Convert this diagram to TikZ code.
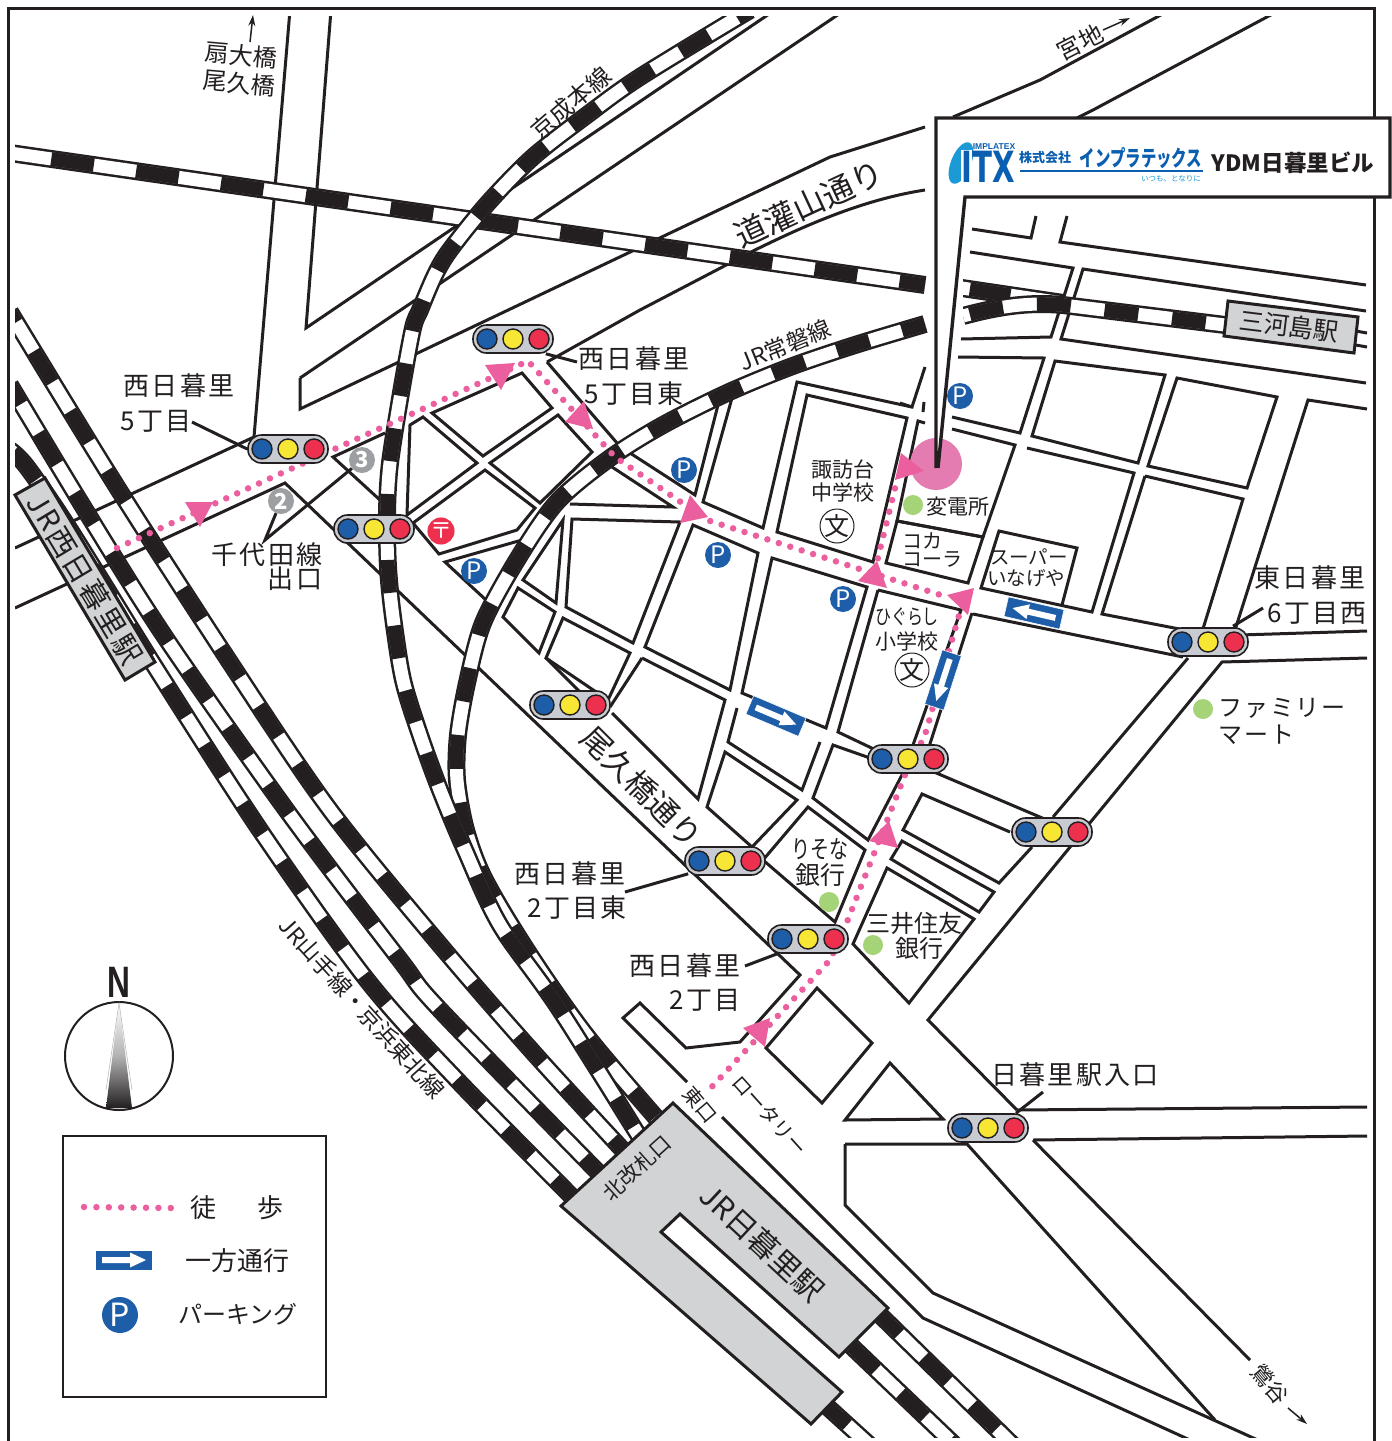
\documentclass[tikz,border=0pt]{standalone}
\usepackage{fontspec}
\usepackage{graphicx}
\usetikzlibrary{arrows.meta,calc}
\setmainfont{Liberation Sans}
\newfontfamily\jp{Noto Sans CJK JP}
\newfontfamily\jpw[LetterSpace=8]{Noto Sans CJK JP}
\newfontfamily\djv{DejaVu Sans}
\definecolor{ink}{HTML}{231F20}
\definecolor{pinkr}{HTML}{EC5F9E}
\definecolor{pinkc}{HTML}{E47CB2}
\definecolor{sblue}{HTML}{1E5EA8}
\definecolor{lblue}{HTML}{1B9AD6}
\definecolor{dblue}{HTML}{0B5FB0}
\definecolor{sgray}{HTML}{D1D3D4}
\definecolor{tgray}{HTML}{C8CBD1}
\definecolor{tyel}{HTML}{F8E634}
\definecolor{tred}{HTML}{EC304E}
\definecolor{gdot}{HTML}{A5D478}
\definecolor{ngray}{HTML}{9D9FA2}
\tikzset{
  road/.style={draw=ink,line width=3pt,line join=miter,line cap=butt},
  leader/.style={draw=ink,line width=3pt},
  raile/.style={draw=ink,line width=18pt,line cap=butt},
  raili/.style={draw=white,line width=13pt,line cap=butt},
  railb/.style={draw=ink,line width=13.6pt,line cap=butt},
  route/.style={draw=pinkr,line width=6.5pt,line cap=round,dash pattern=on 0pt off 12pt},
  tri/.style={fill=pinkr},
  fs/.style={font=\jp\fontsize{#1}{#1}\selectfont,text=ink,inner sep=0pt},
  fw/.style={font=\jpw\fontsize{#1}{#1}\selectfont,text=ink,inner sep=0pt},
  pill/.style={draw=ink,fill=tgray,line width=1.6pt,rounded corners=13.5pt,minimum width=80pt,minimum height=28pt,inner sep=0pt},
  lamp/.style={circle,draw=ink,line width=1.4pt,minimum size=20pt,inner sep=0pt},
  psign/.style={circle,fill=sblue,text=white,minimum size=26pt,inner sep=0pt,font=\jp\fontsize{24}{24}\selectfont},
  gdotn/.style={circle,fill=gdot,minimum size=20pt,inner sep=0pt},
  numn/.style={circle,fill=ngray,text=white,minimum size=26pt,inner sep=0pt,font=\jp\bfseries\fontsize{22}{22}\selectfont},
  schooln/.style={circle,draw=ink,line width=1pt,minimum size=34pt,inner sep=0pt,font=\jp\fontsize{25}{25}\selectfont,text=ink},
  thin arrow/.style={draw=ink,line width=1.5pt,-{Stealth[length=11pt,width=7pt]}},
}
\newcommand\railx[2]{\draw[raile] #2; \draw[raili] #2; \draw[railb,#1] #2;}
\newcommand\tlight[3]{%
  \node[pill] (#1) at (#2,#3) {};
  \path (#2,#3) ++(-26,0) node[lamp,fill=sblue] (#1b) {};
  \path (#2,#3) node[lamp,fill=tyel] (#1y) {};
  \path (#2,#3) ++(26,0) node[lamp,fill=tred] (#1r) {};
}
\newcommand\onew[3]{%
  \begin{scope}[shift={(#1,#2)},rotate=#3]
    \fill[sblue,draw=white,line width=.6pt] (-28.5,-10) rectangle (28.5,10);
    \fill[white] (-22,-3) -- (6,-3) -- (6,-7.5) -- (22,0) -- (6,7.5) -- (6,3) -- (-22,3) -- cycle;
  \end{scope}
}
\begin{document}
\begin{tikzpicture}[x=1pt,y=-1pt]
\useasboundingbox (0,0) rectangle (1392,1441);
\fill[white] (0,0) rectangle (1392,1441);
\begin{scope}
\clip (15,16) rectangle (1367,1437);
% ---------- roads
\draw[road] (290,10) -- (254,437);
\draw[road] (331,10) -- (306,328) -- (775,10);
\draw[road] (300,378) -- (845,10);
\draw[road] (300,378) -- (300,409) -- (830,157) -- (925,127);
\draw[road] (547,362) -- (640,310) -- (755,250) .. controls (800,228) and (860,200) .. (925,190);
\draw[road] (15,548) -- (254,437);
\draw[road] (15,608) -- (285,483) -- (800,975) -- (740,1042) -- (686,1048) -- (640,1003) -- (623,1018) -- (687,1082);
\draw[road] (722,1117) -- (923,1318) -- (1190,1440);
\draw[road] (385,433) -- (333,457) -- (380,500);
\draw[road] (407,515) -- (410,425) -- (423,417) -- (477,463) -- cycle;
\draw[road] (432,413) -- (522,373) -- (552,408) -- (483,456) -- cycle;
\draw[road] (490,463) -- (558,415) -- (592,452) -- (540,503) -- cycle;
\draw[road] (485,470) -- (535,508) -- (517,530) -- (439,554) -- (413,523) -- cycle;
\draw[road] (522,540) -- (445,562) -- (486,600);
\draw[road] (547,362) -- (617,443);
\draw[road] (630,453) -- (695,495) -- (718,405);
\draw[road] (570,504) -- (673,507) -- (612,467);
\draw[road] (563,520) -- (523,580) -- (556,603) -- cycle;
\draw[road] (572,519) -- (680,522) -- (633,643) -- (566,607) -- cycle;
\draw[road] (693,525) -- (758,553) -- (730,690) -- (645,647) -- cycle;
\draw[road] (732,398) -- (703,502) -- (763,528) -- (797,382) -- (912,407) -- (925,367);
\draw[road] (900,403) -- (912,407);
\draw[road] (807,395) -- (907,418) -- (873,562) -- (777,532) -- cycle;
\draw[road] (772,558) -- (867,587) -- (826,728) -- (742,693) -- cycle;
\draw[road] (878,590) -- (961,610) -- (913,745);
\draw[road] (878,590) -- (838,732) -- (880,752);
\draw[road] (925,423) -- (918,421) -- (897,521) -- (983,537);
\draw[road] (924,402) -- (923,412);
\draw[road] (897,521) -- (983,537) -- (968,583) -- (886,563) -- cycle;
\draw[road] (952,429) -- (1015,445) -- (983,537);
\draw[road] (958,357) -- (1044,358) -- (1020,433) -- (952,417);
\draw[road] (1055,361) -- (1165,375) -- (1138,463) -- (1032,436) -- cycle;
\draw[road] (1177,378) -- (1277,397) -- (1247,488) -- (1148,466) -- cycle;
\draw[road] (1027,448) -- (1134,473) -- (1092,612) -- (981,588) -- (999,531) -- (1077,548) -- (1062,605);
\draw[road] (1145,476) -- (1243,499) -- (1202,632);
\draw[road] (1145,476) -- (1102,614) -- (1195,632);
\draw[road] (1367,409) -- (1308,400) -- (1235,630);
\draw[road] (973,614) -- (1183,657);
\draw[road] (1240,635) -- (1367,631);
\draw[road] (1367,658) -- (1222,662) -- (928,1020) -- (1017,1110);
\draw[road] (1188,658) -- (1053,817);
\draw[road] (1032,847) -- (999,883) -- (903,830) -- (922,794) -- (1010,832);
\draw[road] (972,613) -- (928,750);
\draw[road] (903,773) -- (868,840) -- (813,798) -- (833,745) -- (870,758);
\draw[road] (934,772) -- (1047,820);
\draw[road] (642,658) -- (725,700) -- (698,799) -- (612,713);
\draw[road] (642,658) -- (610,707);
\draw[road] (737,708) -- (728,742) -- (802,790) -- (820,742);
\draw[road] (563,618) -- (630,653) -- (608,700) -- (546,658) -- cycle;
\draw[road] (546,658) -- (580,692);
\draw[road] (518,588) -- (555,612) -- (539,653) -- (503,617) -- cycle;
\draw[road] (725,752) -- (797,800) -- (752,847) -- (707,807) -- cycle;
\draw[road] (808,807) -- (865,850) -- (835,922) -- (763,860) -- cycle;
\draw[road] (887,868) -- (974,919) -- (909,1003) -- (853,944) -- cycle;
\draw[road] (902,841) -- (994,892) -- (979,912) -- (891,859) -- cycle;
\draw[road] (817,988) -- (872,1043) -- (822,1103) -- (766,1048) -- cycle;
\draw[road] (890,1063) -- (943,1119) -- (845,1120) -- cycle;
\draw[road] (845,1144) -- (967,1144) -- (1215,1420);
\draw[road] (845,1144) -- (845,1205) -- (933,1293) -- (1260,1441);
\draw[road] (1033,1140) -- (1250,1360);
\draw[road] (1033,1140) -- (1367,1136);
\draw[road] (1017,1110) -- (1367,1107);
\draw[road] (953,117) -- (1040,80) -- (1170,10);
\draw[road] (1077,118) -- (1093,110) -- (1280,10);
\draw[road] (972,229) -- (1031,238) -- (1036,216);
\draw[road] (1067,216) -- (1060,242) -- (1366,285);
\draw[road] (970,252) -- (1073,268) -- (1051,337) -- (961,339);
\draw[road] (1366,311) -- (1083,269) -- (1061,339) -- (1366,383);
\draw[road] (1350,330) -- (1367,333);
\draw[road] (1350,344) -- (1367,347);
% ---------- rails
\railx{dash pattern=on 43pt off 42.7pt,dash phase=44pt}{(10,153) -- (925,285)}
\railx{dash pattern=on 36pt off 34pt,dash phase=66pt}{plot[smooth,tension=.5] coordinates {(10,450) (27,467) (70,530) (157,670) (260,830) (367,980) (460,1083) (620,1245)}}
\railx{dash pattern=on 36pt off 34pt,dash phase=14pt}{plot[smooth,tension=.5] coordinates {(10,385) (87,513) (167,640) (290,815) (400,960) (443,1013) (640,1215)}}
\railx{dash pattern=on 36pt off 34pt,dash phase=24pt}{plot[smooth,tension=.5] coordinates {(10,312) (117,487) (233,667) (330,810) (440,945) (540,1060) (660,1190)}}
\railx{dash pattern=on 34pt off 34pt,dash phase=10pt}{plot[smooth,tension=.5] coordinates {(925,324) (855,345) (790,367) (727,393) (663,425) (610,458) (557,502) (517,560) (483,623) (467,683) (458,735) (457,780) (466,830) (485,880) (530,955) (590,1040) (680,1145)}}
\railx{dash pattern=on 33pt off 33pt,dash phase=18pt}{plot[smooth,tension=.5] coordinates {(750,10) (640,77) (587,115) (533,157) (488,203) (450,250) (435,275) (420,310) (413,328) (402,387) (390,463) (387,513) (388,567) (393,617) (403,680) (420,735) (440,790) (465,850) (500,925) (560,1010) (660,1170)}}
% right of the pointer
\begin{scope}
\clip (963,200) rectangle (1367,360);
\railx{dash pattern=on 41pt off 100pt,dash phase=126pt}{(955,287) -- (1063,303)}
\railx{dash pattern=on 34pt off 34pt,dash phase=61pt}{(963,316) .. controls (1000,306) and (1030,302) .. (1063,305) -- (1225,325)}
\end{scope}
% stubs of rails below the station
\railx{dash pattern=on 34pt off 34pt}{(875,1310) -- (1020,1452)}
\railx{dash pattern=on 34pt off 34pt,dash phase=59pt}{(845,1340) -- (960,1450)}
\railx{dash pattern=on 34pt off 34pt,dash phase=65pt}{(820,1400) -- (875,1450)}
\end{scope}
% ---------- stations
\draw[fill=sgray,draw=ink,line width=3pt,line join=miter,even odd rule]
  (673,1103) -- (888,1308) -- (839,1357) -- (680,1214) -- (661,1232) -- (842,1392) -- (811,1424) -- (561,1206) -- cycle;
\draw[fill=sgray,draw=ink,line width=3pt] (15,495) -- (45,478) -- (155,662) -- (125,680) -- cycle;
\draw[fill=sgray,draw=ink,line width=3pt] (1228,301) -- (1358,317) -- (1354,353) -- (1224,336) -- cycle;
\node[fw=29,rotate=-59] (sw) at (85,579) {JR西日暮里駅};
\node[fs=25,rotate=-7] (sm) at (1289,326) {三河島駅};
\node[fs=30,rotate=-43] (sn) at (762,1243) {JR日暮里駅};
\node[fs=21,rotate=42] (sk) at (637,1168) {北改札口};
% ---------- route
\fill[pinkc] (936,464) circle (26);
\draw[route] (117,548) -- (528,361) -- (615,457) -- (707,520) -- (950,598);
\draw[route] (962,605) -- (925,735) -- (905,775) -- (845,927) -- (830,960) -- (707,1092);
\draw[route] (875,570) -- (897,480);
\fill[tri] (185,502) -- (213,502) -- (200,527) -- cycle;
\fill[tri] (485,365) -- (515,363) -- (501,390) -- cycle;
\fill[tri] (584,401) -- (593,429) -- (565,422) -- cycle;
\fill[tri] (690,495) -- (708,517) -- (680,523) -- cycle;
\fill[tri] (877,561) -- (887,588) -- (858,581) -- cycle;
\fill[tri] (974,588) -- (968,615) -- (947,595) -- cycle;
\fill[tri] (901,453) -- (924,471) -- (895,480) -- cycle;
\fill[tri] (889,821) -- (898,848) -- (869,841) -- cycle;
\fill[tri] (770,1018) -- (765,1047) -- (743,1028) -- cycle;
% ---------- one-way signs
\onew{776}{716}{-23}
\onew{1034}{613}{167}
\onew{943}{680}{-108}
% ---------- free ends of the leaders
\coordinate (apx) at (265,540);
\coordinate (lda) at (192,422);
\coordinate (ldb) at (577,362);
\coordinate (ldc) at (1263,608);
\coordinate (ldd) at (625,892);
\coordinate (lde) at (745,966);
\coordinate (ldf) at (1043,1092);
% ---------- traffic lights
\tlight{ta}{288}{449}
\tlight{tb}{513}{339}
\tlight{tc}{374}{529}
\tlight{td}{570}{705}
\tlight{te}{908}{759}
\tlight{tf}{1208}{642}
\tlight{tg}{1052}{832}
\tlight{th}{725}{861}
\tlight{ti}{808}{939}
\tlight{tj}{988}{1128}
% ---------- P, post, numbered exits, dots
\node[psign] (pa) at (960,396) {P};
\node[psign] (pb) at (684,470) {P};
\node[psign] (pc) at (718,555) {P};
\node[psign] (pd) at (843,599) {P};
\node[psign] (pe) at (474,571) {P};
\node[circle,fill=tred,text=white,minimum size=26pt,inner sep=0pt,font=\jp\fontsize{22}{22}\selectfont] (post) at (441,531) {〒};
\node[numn] (n2) at (281,501) {2};
\node[numn] (n3) at (362,460) {3};
\node[gdotn] (ga) at (913,505) {};
\node[gdotn] (gb) at (1203,709) {};
\node[gdotn] (gc) at (829,902) {};
\node[gdotn] (gd) at (873,945) {};
\node[schooln] (sa) at (837,526) {文};
\node[schooln] (sb) at (912,670) {文};
% ---------- labels
\node[fw=26] (la1) at (179,386) {西日暮里};
\node[fw=26] (la2) at (156,421) {5丁目};
\node[fw=26] (lb1) at (634,359) {西日暮里};
\node[fw=26] (lb2) at (634,394) {5丁目東};
\node[fw=26] (lc1) at (267,555) {千代田線};
\node[fw=26] (lc2) at (295,579) {出口};
\node[fw=26] (lf1) at (1310,578) {東日暮里};
\node[fw=26] (lf2) at (1317,613) {6丁目西};
\node[fw=26] (lh1) at (570,874) {西日暮里};
\node[fw=26] (lh2) at (577,908) {2丁目東};
\node[fw=26] (li1) at (685,966) {西日暮里};
\node[fw=26] (li2) at (705,1000) {2丁目};
\node[fw=26] (lj) at (1075,1075) {日暮里駅入口};
\node[fs=21] (m1) at (843,469) {諏訪台};
\node[fs=21] (m2) at (843,492) {中学校};
\node[fs=21] (m3) at (958,507) {変電所};
\node[fs=20,anchor=west] (m4) at (902,541) {コカ};
\node[fs=20,anchor=west] (m5) at (902,559) {コーラ};
\node[fs=19.5] (m6) at (1029,557) {スーパー};
\node[fs=19.5] (m7) at (1026,578) {いなげや};
\node[fs=21] (m8) at (907,617) {\scalebox{.76}[1]{ひぐらし}};
\node[fs=21] (m9) at (907,641) {小学校};
\node[fw=24,anchor=west] (m10) at (1218,708) {ファミリー};
\node[fw=24,anchor=west] (m11) at (1218,735) {マート};
\node[fs=25] (m12) at (820,849) {\scalebox{.76}[1]{りそな}};
\node[fs=25] (m13) at (820,875) {銀行};
\node[fs=24] (m14) at (914,923) {三井住友};
\node[fs=24] (m15) at (919,948) {銀行};
\node[fs=31,rotate=-45] (r1) at (642,787) {尾久橋通り};
\node[fs=23,rotate=-48] (r2) at (362,1008) {JR山手線・京浜東北線};
\node[fs=24,rotate=41] (r3) at (571,103) {京成本線};
\node[fs=23,rotate=22] (r4) at (785,345) {JR常磐線};
\node[fs=32,rotate=25] (r5) at (809,204) {道灌山通り};
\node[fs=24,rotate=-5] (r6) at (241,55) {扇大橋};
\node[fs=24,rotate=-5] (r7) at (239,83) {尾久橋};
\node[fs=24,rotate=27] (r8) at (1080,42) {宮地};
\node[fs=20,rotate=-50] (r9) at (700,1105) {東口};
\node[fs=20,rotate=-48] (r10) at (770,1115) {ロータリー};
\node[fs=22,rotate=-50] (r11) at (1270,1384) {鶯谷};
% ---------- small arrows
\coordinate (aa) at (250,42); \coordinate (ab) at (253,15);
\draw[thin arrow] (aa) -- (ab);
\coordinate (ac) at (1103,30); \coordinate (ad) at (1130,18);
\draw[thin arrow] (ac) -- (ad);
\coordinate (ae) at (1288,1408); \coordinate (af) at (1307,1424);
\draw[thin arrow] (ae) -- (af);
% ---------- leaders
\draw[leader] (lda) -- (ta.west);
\draw[leader] ($(tb.south east)+(-8,0)$) -- (ldb);
\draw[leader] (n2) -- (apx) -- (n3);
\draw[leader] (ldc) -- ($(tf.north)+(25,-1)$);
\draw[leader] (ldd) -- ($(th.south west)+(4,-2)$);
\draw[leader] (lde) -- ($(ti.south west)+(10,0)$);
\draw[leader] (ldf) -- ($(tj.north)+(28,0)$);
% ---------- frame and callout
\draw[ink,line width=3pt] (8,1445) -- (8,8) -- (1374,8) -- (1374,118);
\draw[ink,line width=3pt] (1374,197) -- (1374,1445);
\fill[white] (936,118) rectangle (1390,197);
\fill[white] (936,118) -- (965,197) -- (938,468) -- (936,468) -- cycle;
\draw[ink,line width=3.4pt,line join=miter] (936,468) -- (936,118) -- (1390,118) -- (1390,197) -- (965,197) -- (938,468);
% ---------- logo
\begin{scope}[shift={(961,163)},rotate=-22]
\fill[lblue] (0,0) ellipse (10 and 22);
\end{scope}
\fill[white] (961,150) rectangle (972,185);
\node[inner sep=0pt,text=dblue,font=\djv\bfseries\fontsize{43}{43}\selectfont] (lg1) at (988,167) {\scalebox{.68}[1]{ITX}};
\node[inner sep=0pt,text=dblue,font=\bfseries\fontsize{8.5}{9}\selectfont] (lg2) at (994,147) {IMPLATEX};
\node[inner sep=0pt,text=dblue,font=\jp\bfseries\fontsize{13}{13}\selectfont] (lg3) at (1045,158) {株式会社};
\node[inner sep=0pt,text=dblue,font=\jp\bfseries\fontsize{22}{22}\selectfont] (lg4) at (1141,158) {\scalebox{.7}[1]{インプラテックス}};
\draw[dblue,line width=2.5pt] (1020,171) -- (1203,171);
\node[inner sep=0pt,text=lblue,font=\jp\fontsize{7.5}{8}\selectfont] (lg5) at (1171,179) {いつも、となりに};
\node[inner sep=0pt,text=ink,font=\jp\bfseries\fontsize{22.5}{23}\selectfont] (lg6) at (1293,163) {YDM日暮里ビル};
% ---------- compass
\draw[ink,line width=2pt] (119,1056) circle (54);
\shade[top color=white,bottom color=ink,middle color=gray!60] (119,1003) -- (132,1108) -- (106,1108) -- cycle;
\draw[gray!60,line width=.5pt] (106,1090) -- (119,1003) -- (132,1090);
\node[inner sep=0pt,text=ink,font=\bfseries\fontsize{44}{44}\selectfont] (nn) at (119,982) {\scalebox{.72}[1]{N}};
% ---------- legend
\draw[ink,line width=1.5pt,fill=white] (63,1136) rectangle (326,1397);
\coordinate (lga) at (84,1207); \coordinate (lgb) at (172,1208);
\draw[route,dash pattern=on 0pt off 12.4pt] (lga) -- (lgb);
\node[fs=26] (l1) at (203,1208) {徒};
\node[fs=26] (l2) at (270,1208) {歩};
\onew{124}{1260}{0}
\node[fs=26] (l3) at (237,1261) {一方通行};
\node[psign,minimum size=36pt,font=\jp\fontsize{32}{32}\selectfont] (l4) at (120,1315) {P};
\node[fs=24] (l5) at (238,1314) {パーキング};
\end{tikzpicture}
\end{document}
